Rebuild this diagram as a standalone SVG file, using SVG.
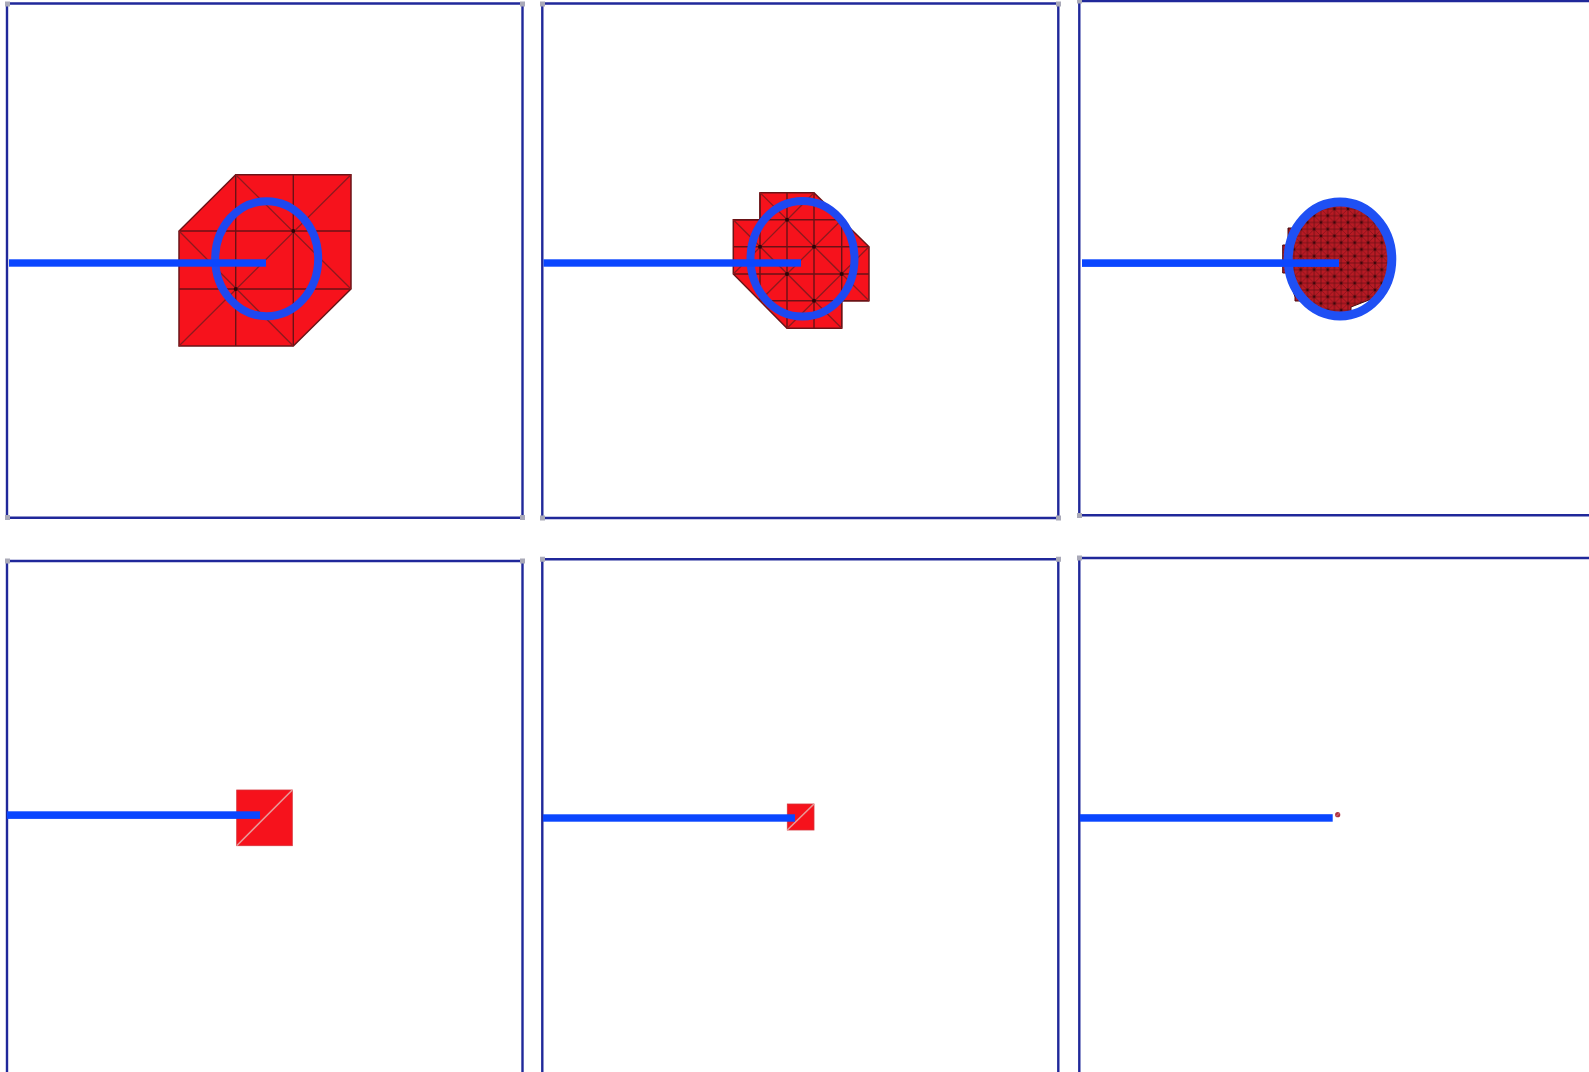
<svg xmlns="http://www.w3.org/2000/svg" width="1589" height="1072" viewBox="0 0 1589 1072">
<style>
.frame{fill:none;stroke:#20289a;stroke-width:2.4}
.corner{fill:#a9a9b8}
.mesh{fill:#f6121c;stroke:#6a1418;stroke-width:1.5;stroke-linejoin:miter}
.wire{fill:none;stroke:#6a1216;stroke-width:1.4}
.diag{fill:none;stroke:#8e1a1e;stroke-width:1.3}
.node{fill:#2a0508}
.pale{stroke:#e79a98;stroke-width:1.6;fill:none}
.cell{fill:#f6121c;stroke:#d8323a;stroke-width:.8}
.ring{fill:none;stroke:#1e48f0;stroke-width:8}
.bar{fill:#0a46ff}
</style>
<defs>
<pattern id="fine" patternUnits="userSpaceOnUse" x="1327.7" y="215.7" width="13.5" height="13.5">
<rect width="13.5" height="13.5" fill="#b81a24"/>
<path d="M0 0L13.5 13.5M13.5 0L0 13.5" stroke="#7a1219" stroke-width=".7" fill="none"/>
<path d="M0 0H13.5M0 6.75H13.5M0 13.5H13.5M0 0V13.5M6.75 0V13.5M13.5 0V13.5" stroke="#5c0d14" stroke-width=".7" fill="none"/>
<circle cx="0" cy="0" r="1.4" fill="#3a070b"/><circle cx="13.5" cy="0" r="1.4" fill="#3a070b"/><circle cx="0" cy="13.5" r="1.4" fill="#3a070b"/><circle cx="13.5" cy="13.5" r="1.4" fill="#3a070b"/><circle cx="6.75" cy="6.75" r="1.4" fill="#3a070b"/>
</pattern>
</defs>
<rect width="1589" height="1072" fill="#ffffff"/>

<g id="panel-1">
<path class="frame" d="M7 3.5H522.5V517.7H7Z"/>
<path class="corner" d="M5 1.5h5v5h-5zM520 1.5h5v5h-5zM5 515h5v5h-5zM520 515h5v5h-5z"/>
<path class="mesh" d="M235.7 174.7H351V289L293.3 346H179V231Z"/>
<path class="wire" d="M179 231H351M179 289H351M235.7 174.7V346M293.3 174.7V346"/>
<path class="diag" d="M351 174.7L179 346M235.7 174.7L351 289M179 231L293.3 346"/>
<circle class="node" cx="293.3" cy="231" r="2"/><circle class="node" cx="235.7" cy="289" r="2"/>
<ellipse class="ring" cx="266.7" cy="258.7" rx="51.5" ry="57.5"/>
<rect class="bar" x="9" y="259.3" width="257" height="7.4"/>
</g>

<g id="panel-2">
<path class="frame" d="M542.3 3.5H1058.3V518H542.3Z"/>
<path class="corner" d="M540 1.5h5v5h-5zM1056 1.5h5v5h-5zM540 515.5h5v5h-5zM1056 515.5h5v5h-5z"/>
<path class="mesh" d="M760 192.7H814L869 246.7V300.7H841.7V328.3H787L733.3 274V219.7H760Z"/>
<path class="wire" d="M733.3 219.7H841.7M733.3 246.7H869M733.3 274H869M760 300.7H869M760 192.7V300.7M787 192.7V328.3M814 192.7V328.3M841.7 219.7V328.3"/>
<path class="diag" d="M760 192.7L841.7 274M814 192.7L733.3 274M733.3 219.7L841.7 328.3M841.7 219.7L760 300.7M787 219.7L869 300.7M869 246.7L787 328.3M760 246.7L814 300.7"/>
<circle class="node" cx="787" cy="219.7" r="2"/><circle class="node" cx="760" cy="246.7" r="2"/><circle class="node" cx="814" cy="246.7" r="2"/><circle class="node" cx="787" cy="274" r="2"/><circle class="node" cx="841.7" cy="274" r="2"/><circle class="node" cx="814" cy="300.7" r="2"/>
<ellipse class="ring" cx="802.5" cy="258.8" rx="52" ry="57.8"/>
<rect class="bar" x="543.5" y="259.3" width="257.5" height="7.4"/>
</g>

<g id="panel-3">
<path class="frame" d="M1595 1H1079.3V515.3H1595"/>
<path class="corner" d="M1077 0h5v3.5h-5zM1077 513h5v5h-5z"/>
<path fill="url(#fine)" stroke="#4a0a10" stroke-width="1" d="M1288 228V245H1282.7V273H1287L1295 297V301H1305A51.8 57 0 0 0 1351 314.7V307L1369 300H1376A51.8 57 0 1 0 1296.5 228Z"/>
<ellipse cx="1340" cy="259" rx="51.8" ry="57" fill="none" stroke="#1f50f4" stroke-width="9"/>
<rect class="bar" x="1082" y="259.3" width="257" height="7.6"/>
</g>

<g id="panel-4">
<path class="frame" d="M7 1080V561H522.5V1080"/>
<path class="corner" d="M5 558.5h5v5h-5zM520 558.5h5v5h-5z"/>
<rect class="cell" x="236.7" y="790" width="55.6" height="55.7"/>
<path class="pale" d="M236.7 845.7L292.3 790"/>
<rect class="bar" x="7" y="811.3" width="253" height="7.6"/>
</g>

<g id="panel-5">
<path class="frame" d="M542.3 1080V559.2H1058.3V1080"/>
<path class="corner" d="M540 556.7h5v5h-5zM1056 556.7h5v5h-5z"/>
<rect class="cell" x="787.3" y="804" width="26.7" height="26"/>
<path class="pale" d="M787.3 830L814 804"/>
<rect class="bar" x="543" y="814.3" width="252" height="7.4"/>
</g>

<g id="panel-6">
<path class="frame" d="M1595 558H1079.3V1080"/>
<path class="corner" d="M1077 555.5h5v5h-5z"/>
<circle cx="1337.7" cy="814.7" r="2.6" fill="#b03040"/>
<path d="M1336 816.5L1339.5 813" stroke="#e0a0a0" stroke-width=".7"/>
<rect class="bar" x="1080" y="814.2" width="252.7" height="7.5"/>
</g>
</svg>
